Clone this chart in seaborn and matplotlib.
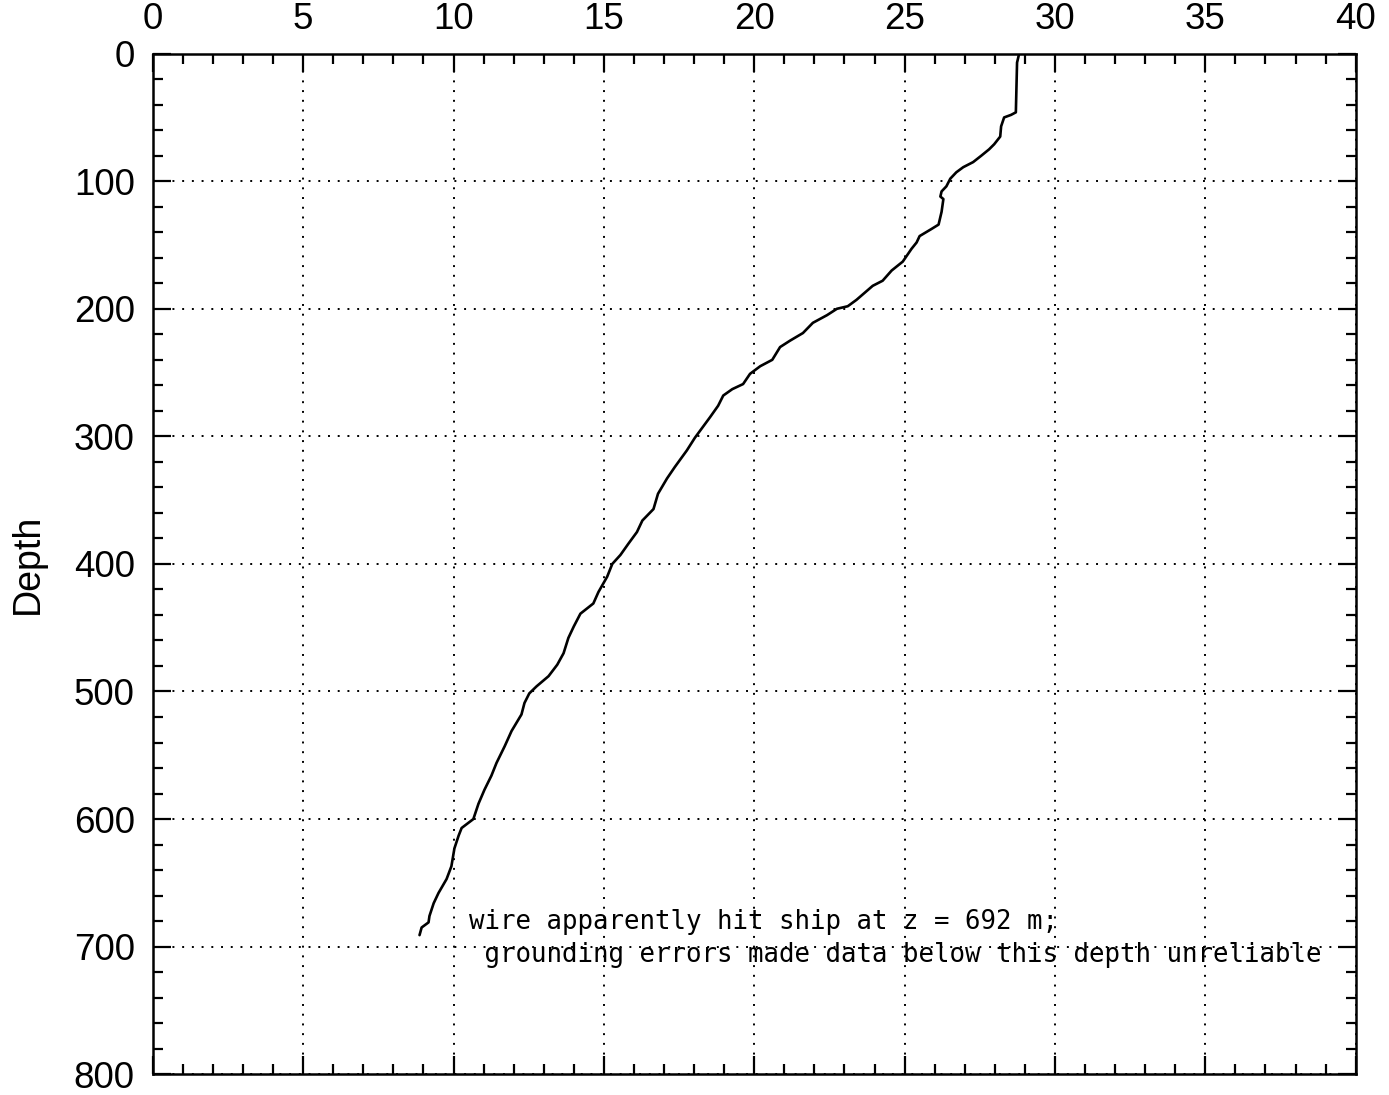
"""
Temperature profile vs depth (wire hit ship at 692 m)
"""

import numpy as np
import pandas as pd
import matplotlib
matplotlib.use("Agg")
import matplotlib.pyplot as plt
import seaborn as sns
from matplotlib.ticker import MultipleLocator

# profile (temperature, depth in m)
temperature = [
    28.81, 28.74, 28.70, 28.54, 28.31, 28.21, 28.18, 27.98, 27.81, 27.55,
    27.28, 26.95, 26.72, 26.52, 26.39, 26.23, 26.19, 26.29, 26.23, 26.13,
    25.89, 25.50, 25.40, 25.23, 24.94, 24.57, 24.27, 23.94, 23.67, 23.40,
    23.11, 22.75, 22.42, 21.95, 21.62, 21.19, 20.86, 20.60, 20.20, 19.86,
    19.63, 19.27, 18.97, 18.80, 18.53, 18.03, 17.76, 17.36, 17.10, 16.80,
    16.65, 16.28, 16.10, 15.82, 15.55, 15.28, 15.11, 14.82, 14.65, 14.22,
    14.00, 13.82, 13.66, 13.45, 13.16, 12.76, 12.52, 12.36, 12.26, 11.93,
    11.70, 11.43, 11.26, 11.03, 10.83, 10.66, 10.27, 10.17, 10.03, 9.93,
    9.77, 9.50, 9.34, 9.20, 9.17, 8.94, 8.87,
]
depth = [
    0, 7, 46, 48, 50, 57, 65, 71, 75, 80,
    85, 89, 93, 98, 104, 108, 112, 114, 124, 134,
    137.5, 143, 148, 153, 163, 170, 178, 182, 187.5, 193,
    198, 200, 205, 211, 219, 225, 230, 240, 245, 251,
    259, 263, 268, 276, 285, 301, 311, 324, 333, 345,
    357, 366, 375, 384, 393, 400, 410, 422, 431, 439,
    449, 458, 470, 479, 488, 496, 501.5, 509, 518, 531,
    543, 556, 566, 577, 588, 600, 607, 613, 623, 637,
    647, 658, 666, 676, 681, 685, 691,
]

x_ticks = [0, 5, 10, 15, 20, 25, 30, 35, 40]
y_ticks = [0, 100, 200, 300, 400, 500, 600, 700, 800]
note = "wire apparently hit ship at z = 692 m;\n grounding errors made data below this depth unreliable"

df = pd.DataFrame({"temperature": temperature, "depth": depth})

sns.set_style("ticks")
plt.rcParams["font.family"] = ["Liberation Sans", "DejaVu Sans"]

fig = plt.figure(figsize=(13.89, 10.95), dpi=100)
ax = fig.add_axes([0.110, 0.019, 0.866, 0.932])

sns.lineplot(data=df, x="temperature", y="depth", sort=False, estimator=None,
             color="black", linewidth=1.9, ax=ax)

ax.set_xlim(0, 40)
ax.set_ylim(800, 0)
ax.set_xticks(x_ticks)
ax.set_yticks(y_ticks)
ax.xaxis.set_minor_locator(MultipleLocator(1))
ax.yaxis.set_minor_locator(MultipleLocator(20))
ax.xaxis.tick_top()
ax.tick_params(which="both", direction="in", top=True, bottom=True,
               left=True, right=True, color="black", width=1.6,
               labelsize=26.5, labelcolor="black")
ax.tick_params(axis="x", which="both", labeltop=True, labelbottom=False, pad=12)
ax.tick_params(axis="y", which="both", pad=13)
ax.tick_params(which="major", length=13)
ax.tick_params(which="minor", length=7)

ax.set_xlabel("")
ax.set_ylabel("Depth", fontsize=27, color="black", labelpad=20)

ax.grid(True, which="major", color="black", linestyle=(0, (1, 4)), linewidth=1.4)
for s in ax.spines.values():
    s.set_color("black")
    s.set_linewidth(1.8)

ax.text(10.5, 694, note, family="DejaVu Sans Mono", fontsize=18.5,
        ha="left", va="center", linespacing=1.35, color="black")

fig.savefig("out.png", dpi=100)
